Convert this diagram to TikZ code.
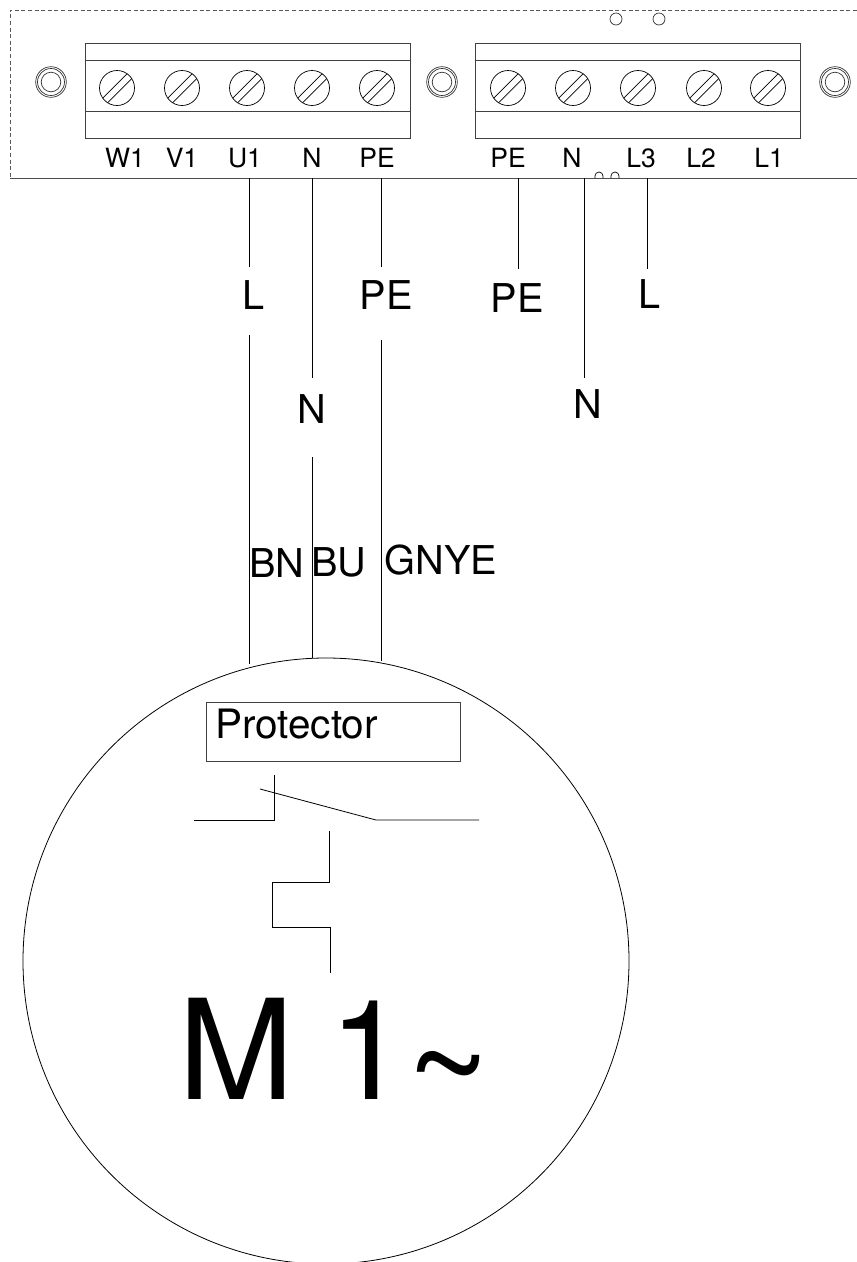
\documentclass[tikz,border=0pt]{standalone}
\usepackage{fontspec}
\setmainfont{TeX Gyre Heros}
\newcommand{\fsz}[1]{\fontsize{#1}{#1}\selectfont}
\tikzset{
  ln/.style={draw=black,line width=0.8pt},
  box/.style={draw=black!75,line width=1pt},
  term/.style={anchor=base,inner sep=0pt,font=\fsz{26.5}},
  wl/.style={anchor=base,inner sep=0pt,font=\fsz{39.7}},
  pics/screw/.style={code={
    \draw[draw=black,line width=0.7pt] (0,0) circle (17.5);
    \draw[draw=black,line width=0.7pt] (-14.3,10.1) -- (10.1,-14.3);
    \draw[draw=black,line width=0.7pt] (-9.5,14.9) -- (14.9,-9.5);
  }},
  pics/grommet/.style={code={
    \draw[draw=black!80,line width=0.7pt] (0,0) circle (15.3);
    \draw[draw=black!80,line width=0.7pt] (0,0) circle (13.5);
    \draw[draw=black!80,line width=0.7pt] (0,0) circle (9.8);
  }},
}
\begin{document}
\begin{tikzpicture}[x=1pt,y=-1pt]
\useasboundingbox (0,0) rectangle (857,1262);
% enclosure
\draw[draw=black!65,line width=0.9pt,dash pattern=on 4pt off 2.6pt] (857,10) -- (10,10) -- (10,178);
\draw[draw=black!70,line width=1pt] (10,178) -- (857,178);
% terminal blocks
\draw[box] (85,43) rectangle (410,138);
\draw[box] (85,60) -- (410,60) (85,111) -- (410,111);
\draw[box] (475,43) rectangle (800,138);
\draw[box] (475,60) -- (800,60) (475,111) -- (800,111);
\foreach \x in {117,182,247,312,377,508,573,638,704,768}
  \pic at (\x,88) {screw};
\foreach \x in {51,442,835}
  \pic at (\x,82) {grommet};
\draw[draw=black!80,line width=0.7pt] (616,19) circle (6) (659,19) circle (6);
% bumps on the edge
\draw[draw=black,line width=0.7pt] (595,178) -- (595,176) arc (180:360:4) -- (603,178);
\draw[draw=black,line width=0.7pt] (611,178) -- (611,176) arc (180:360:4) -- (619,178);
% terminal labels
\node[term] (tW) at (125,167) {W1};
\node[term] (tV) at (182,167) {V1};
\node[term] (tU) at (245,167) {U1};
\node[term] (tN) at (312,167) {N};
\node[term] (tPE) at (377,167) {PE};
\node[term] (rPE) at (508,167) {PE};
\node[term] (rN) at (572,167) {N};
\node[term] (rL3) at (641,167) {L3};
\node[term] (rL2) at (701,167) {L2};
\node[term] (rL1) at (769,167) {L1};
% wire labels
\node[wl] (lL) at (254,309) {L};
\node[wl] (lN) at (312,423) {N};
\node[wl] (lPE) at (386,309) {PE};
\node[wl] (lrPE) at (517,312) {PE};
\node[wl] (lrL) at (650,308) {L};
\node[wl] (lrN) at (588,418) {N};
\node[wl] (cBN) at (277,577) {BN};
\node[wl] (cBU) at (339,576) {BU};
\node[wl] (cGY) at (441,574) {GNYE};
% wire end points
\coordinate (u0) at (249.5,178); \coordinate (u1) at (249.5,267);
\coordinate (u2) at (249.5,335); \coordinate (u3) at (249.5,664);
\coordinate (n0) at (312,178); \coordinate (n1) at (312,378);
\coordinate (n2) at (312,457); \coordinate (n3) at (312,658);
\coordinate (p0) at (381,178); \coordinate (p1) at (381,267);
\coordinate (p2) at (381,340); \coordinate (p3) at (381,661);
\coordinate (rp0) at (518,178); \coordinate (rp1) at (518,269);
\coordinate (rn0) at (584.5,178); \coordinate (rn1) at (584.5,378);
\coordinate (rl0) at (647.5,178); \coordinate (rl1) at (647.5,269);
\draw[ln] (u0) -- (u1) (u2) -- (u3) (n0) -- (n1) (n2) -- (n3) (p0) -- (p1) (p2) -- (p3);
\draw[ln] (rp0) -- (rp1) (rn0) -- (rn1) (rl0) -- (rl1);
% motor
\node[draw=black,line width=0.8pt,circle,minimum size=606pt,inner sep=0pt] (motor) at (326,961) {};
\node[draw=black!75,line width=1pt,minimum width=254pt,minimum height=59pt,inner sep=0pt] (prot) at (333,731.5) {};
\node[anchor=base west,inner sep=0pt,font=\fsz{40.5}] (protT) at (215,738) {Protector};
% switch
\coordinate (s0) at (194,820); \coordinate (s1) at (274,820); \coordinate (s2) at (274,775);
\coordinate (s3) at (260,789); \coordinate (s4) at (376,820); \coordinate (s5) at (479,820);
\draw[ln] (s0) -- (s1) -- (s2);
\draw[ln] (s3) -- (s4) -- (s5);
% heater
\coordinate (h0) at (329,831); \coordinate (h1) at (329,882); \coordinate (h2) at (272,882);
\coordinate (h3) at (272,927); \coordinate (h4) at (330,927); \coordinate (h5) at (330,973);
\draw[ln] (h0) -- (h1) -- (h2) -- (h3) -- (h4) -- (h5);
\node[anchor=base west,inner sep=0pt,font=\fsz{139}] (mt) at (178,1099) {M\kern-3pt{} 1\raisebox{-15pt}{\fsz{144}\char"7E}};
\end{tikzpicture}
\end{document}
